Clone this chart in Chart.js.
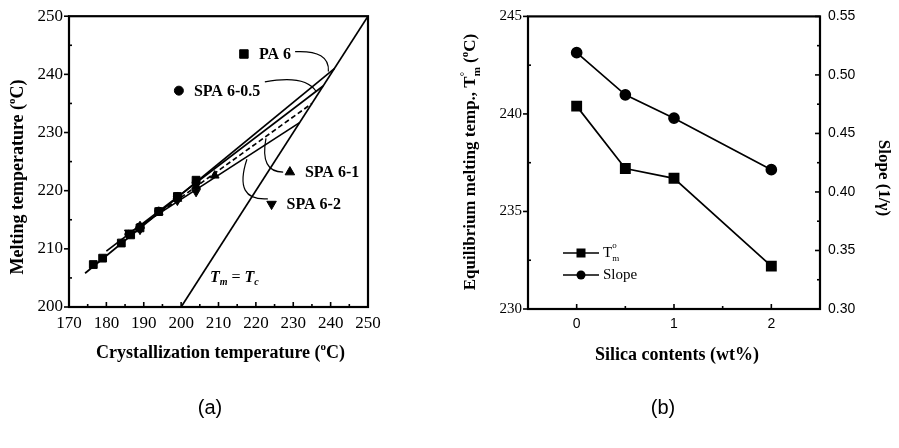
<!DOCTYPE html>
<html>
<head>
<meta charset="utf-8">
<script src="https://cdn.jsdelivr.net/npm/chart.js@4.4.1/dist/chart.umd.min.js"></script>
<style>
  html, body { margin: 0; padding: 0; background: #fff; }
  #wrap { position: relative; width: 899px; height: 448px; overflow: hidden; }
  canvas { position: absolute; top: 0; }
  #chart-a { left: 0; }
  #chart-b { left: 440px; }
</style>
</head>
<body>
<div id="wrap">
  <canvas id="chart-a" width="440" height="448"></canvas>
  <canvas id="chart-b" width="459" height="448"></canvas>
</div>
<script>
// ---- panel (a): Hoffman-Weeks plot ----
const tcTicks = [170, 180, 190, 200, 210, 220, 230, 240, 250];
const tmTicks = [200, 210, 220, 230, 240, 250];

const pa6Tc = [176.5, 179, 184, 186.5, 189, 194, 199, 204];
const pa6Tm = [207.3, 208.4, 211.0, 212.4, 213.6, 216.4, 219.0, 221.8];
const spa05Tc = [186, 189, 194, 199, 204];
const spa05Tm = [212.5, 213.8, 216.5, 219.0, 221.4];
const spa1Tc = [189, 194, 199, 204, 209];
const spa1Tm = [213.9, 216.3, 218.6, 220.8, 222.6];
const spa2Tc = [186, 189, 199, 204];
const spa2Tm = [212.8, 213.3, 218.3, 219.8];

// extrapolated fits, drawn up to Tm = Tc
const fitPa6Tc = [174.3, 241.0],   fitPa6Tm = [205.8, 241.0];
const fitSpa05Tc = [180.0, 238.0], fitSpa05Tm = [209.6, 238.0];
const fitSpa1Tc = [186.0, 235.0],  fitSpa1Tm = [212.4, 235.0];
const fitSpa2Tc = [186.0, 231.7],  fitSpa2Tm = [212.7, 231.7];
const diagTc = [200, 250], diagTm = [200, 250];

// key markers + labels
const keyNames = ['PA 6', 'SPA 6-0.5', 'SPA 6-1', 'SPA 6-2'];
const keyTc = [216.8, 199.4, 229.1, 224.2];
const keyTm = [243.5, 237.2, 223.2, 217.7];
const keyStyle = ['rect', 'circle', 'triangle', 'triangle'];
const keyRot = [0, 0, 0, 180];
const keyRadius = [6, 4.5, 5.5, 5.5];

// leader curves: start, control, end (Tc, Tm)
const leaderStart = [[230.5, 243.9], [222.4, 238.7], [227.3, 223.2], [217.6, 225.4]];
const leaderCtrl  = [[239.8, 244.2], [233.1, 240.0], [221.0, 223.2], [213.9, 218.2]];
const leaderEnd   = [[239.4, 240.5], [236.1, 237.1], [222.7, 229.0], [223.2, 218.6]];

// ---- panel (b): Tm0 and slope vs silica ----
const silica = [0, 0.5, 1, 2];
const tmEq = [240.4, 237.2, 236.7, 232.2];
const slope = [0.519, 0.483, 0.463, 0.419];
const silicaTicks = [0, 1, 2];
const tmEqTicks = [230, 235, 240, 245];
const slopeTicks = [0.30, 0.35, 0.40, 0.45, 0.50, 0.55];

const SERIF = "'Liberation Serif', 'DejaVu Serif', serif";
const SANS = "'Liberation Sans', Arial, sans-serif";

const pts = (xs, ys) => xs.map((x, i) => ({ x: x, y: ys[i] }));
const setTicks = arr => s => { s.ticks = arr.map(v => ({ value: v })); };

function lineSet(xs, ys, dash) {
    return { data: pts(xs, ys), showLine: true, borderColor: '#000', borderWidth: 1.7,
             borderDash: dash || [], pointRadius: 0, fill: false };
}
function markSet(xs, ys, style, r, rot) {
    return { data: pts(xs, ys), showLine: false, pointStyle: style, pointRadius: r,
             pointRotation: rot || 0, backgroundColor: '#000', borderColor: '#000', borderWidth: 1 };
}

// text runs with sub/superscripts
function rich(ctx, runs, x, y, rot, align) {
    ctx.save();
    ctx.translate(x, y);
    ctx.rotate(rot || 0);
    let w = 0;
    runs.forEach(r => { ctx.font = r.f; r.w = ctx.measureText(r.t).width; if (r.adv !== false) w += r.w; });
    let cx = align === 'left' ? 0 : -w / 2;
    ctx.textBaseline = 'middle';
    ctx.textAlign = 'left';
    ctx.fillStyle = '#000';
    runs.forEach(r => {
        ctx.font = r.f;
        ctx.fillText(r.t, cx, r.dy || 0);
        if (r.adv !== false) cx += r.w;
    });
    ctx.restore();
}

// tick marks: majors and minors, in or out
function tickMarks(chart, id, minorStep, majorOut, minorOut) {
    const s = chart.scales[id], a = chart.chartArea, ctx = chart.ctx;
    const majors = s.ticks.map(t => t.value);
    const n = Math.round((s.max - s.min) / minorStep);
    ctx.save();
    ctx.strokeStyle = '#000';
    ctx.lineWidth = 1.6;
    for (let i = 0; i <= n; i++) {
        const v = s.min + i * minorStep;
        const major = majors.some(m => Math.abs(m - v) < 1e-6);
        const len = major ? 5 : 3;
        const out = major ? majorOut : minorOut;
        const p = s.getPixelForValue(v);
        ctx.beginPath();
        if (s.isHorizontal()) {
            ctx.moveTo(p, a.bottom);
            ctx.lineTo(p, a.bottom + (out ? len : -len));
        } else if (s.position === 'left') {
            ctx.moveTo(a.left, p);
            ctx.lineTo(a.left + (out ? -len : len), p);
        } else {
            ctx.moveTo(a.right, p);
            ctx.lineTo(a.right + (out ? len : -len), p);
        }
        ctx.stroke();
    }
    ctx.restore();
}

function frame(chart) {
    const a = chart.chartArea, ctx = chart.ctx;
    ctx.save();
    ctx.strokeStyle = '#000';
    ctx.lineWidth = 2.2;
    ctx.strokeRect(a.left, a.top, a.right - a.left, a.bottom - a.top);
    ctx.restore();
}

const panelA = {
    id: 'panelA',
    afterDraw(chart) {
        const ctx = chart.ctx, a = chart.chartArea;
        const xs = chart.scales.x, ys = chart.scales.y;
        frame(chart);
        tickMarks(chart, 'x', 5, false, false);
        tickMarks(chart, 'y', 5, true, false);

        const tb = 'bold 18px ' + SERIF, sup = 'bold 11px ' + SERIF;
        rich(ctx, [{ t: 'Melting temperature (', f: tb }, { t: 'o', f: sup, dy: -6 }, { t: 'C)', f: tb }],
             18, 177, -Math.PI / 2);
        rich(ctx, [{ t: 'Crystallization temperature (', f: tb }, { t: 'o', f: sup, dy: -6 }, { t: 'C)', f: tb }],
             (a.left + a.right) / 2 + 2, 353, 0);

        // key labels
        ctx.save();
        ctx.font = 'bold 16px ' + SERIF;
        ctx.fillStyle = '#000';
        ctx.textBaseline = 'middle';
        keyNames.forEach((name, i) => {
            ctx.fillText(name, xs.getPixelForValue(keyTc[i]) + 15, ys.getPixelForValue(keyTm[i]) + 1);
        });
        // leaders
        ctx.strokeStyle = '#000';
        ctx.lineWidth = 1.2;
        leaderStart.forEach((st, i) => {
            ctx.beginPath();
            ctx.moveTo(xs.getPixelForValue(st[0]), ys.getPixelForValue(st[1]));
            ctx.quadraticCurveTo(xs.getPixelForValue(leaderCtrl[i][0]), ys.getPixelForValue(leaderCtrl[i][1]),
                                 xs.getPixelForValue(leaderEnd[i][0]), ys.getPixelForValue(leaderEnd[i][1]));
            ctx.stroke();
        });
        ctx.restore();

        // Tm = Tc
        const it = 'italic bold 16px ' + SERIF, itSub = 'italic bold 10px ' + SERIF;
        rich(ctx, [{ t: 'T', f: it }, { t: 'm', f: itSub, dy: 5 }, { t: ' = ', f: '16px ' + SERIF },
                   { t: 'T', f: it }, { t: 'c', f: itSub, dy: 5 }],
             xs.getPixelForValue(207.7), ys.getPixelForValue(205.0), 0, 'left');

        ctx.save();
        ctx.font = '20px ' + SANS;
        ctx.fillStyle = '#000';
        ctx.textAlign = 'center';
        ctx.textBaseline = 'middle';
        ctx.fillText('(a)', 210, 408);
        ctx.restore();
    }
};

new Chart(document.getElementById('chart-a'), {
    type: 'scatter',
    data: {
        datasets: [
            lineSet(diagTc, diagTm),
            lineSet(fitPa6Tc, fitPa6Tm),
            lineSet(fitSpa05Tc, fitSpa05Tm),
            lineSet(fitSpa1Tc, fitSpa1Tm, [5, 3]),
            lineSet(fitSpa2Tc, fitSpa2Tm),
            markSet(pa6Tc, pa6Tm, 'rect', 5.5),
            markSet(spa05Tc, spa05Tm, 'circle', 4),
            markSet(spa1Tc, spa1Tm, 'triangle', 5),
            markSet(spa2Tc, spa2Tm, 'triangle', 5, 180),
            { data: pts(keyTc, keyTm), showLine: false, pointStyle: keyStyle, pointRotation: keyRot,
              pointRadius: keyRadius, backgroundColor: '#000', borderColor: '#000', borderWidth: 1, clip: false }
        ]
    },
    options: {
        responsive: false,
        animation: false,
        events: [],
        layout: { padding: { left: 0, right: 72, top: 16, bottom: 0 } },
        plugins: { legend: { display: false }, tooltip: { enabled: false } },
        scales: {
            x: {
                type: 'linear', min: 170, max: 250,
                afterBuildTicks: setTicks(tcTicks),
                afterFit: s => { s.height = 141; },
                grid: { display: false, drawTicks: false },
                border: { display: false },
                ticks: { color: '#000', font: { family: SERIF, size: 17 }, padding: 6, autoSkip: false, maxRotation: 0 }
            },
            y: {
                type: 'linear', min: 200, max: 250,
                afterBuildTicks: setTicks(tmTicks),
                afterFit: s => { s.width = 69; },
                grid: { display: false, drawTicks: false },
                border: { display: false },
                ticks: { color: '#000', font: { family: SERIF, size: 17 }, padding: 6, autoSkip: false }
            }
        }
    },
    plugins: [panelA]
});

const panelB = {
    id: 'panelB',
    afterDraw(chart) {
        const ctx = chart.ctx, a = chart.chartArea;
        frame(chart);
        tickMarks(chart, 'x', 0.5, false, false);
        tickMarks(chart, 'y', 2.5, true, false);
        tickMarks(chart, 'y1', 0.025, false, false);

        const tb = 'bold 17px ' + SERIF, sup = 'bold 11px ' + SERIF;
        rich(ctx, [{ t: 'Equilibrium melting temp., T', f: tb },
                   { t: '°', f: sup, dy: -6, adv: false }, { t: 'm', f: sup, dy: 6 },
                   { t: ' (', f: tb }, { t: 'o', f: sup, dy: -6 }, { t: 'C)', f: tb }],
             31, 162, -Math.PI / 2);
        rich(ctx, [{ t: 'Slope (1/γ)', f: tb }], 443, 178, Math.PI / 2);
        rich(ctx, [{ t: 'Silica contents (wt%)', f: 'bold 18px ' + SERIF }], (a.left + a.right) / 2 + 3, 355, 0);

        // legend inside plot
        ctx.save();
        ctx.strokeStyle = '#000';
        ctx.fillStyle = '#000';
        ctx.lineWidth = 1.7;
        const lx0 = 123, lx1 = 159, rowY = [253, 275];
        rowY.forEach(y => { ctx.beginPath(); ctx.moveTo(lx0, y); ctx.lineTo(lx1, y); ctx.stroke(); });
        ctx.fillRect(141 - 4.5, rowY[0] - 4.5, 9, 9);
        ctx.beginPath(); ctx.arc(141, rowY[1], 4.5, 0, Math.PI * 2); ctx.fill();
        ctx.restore();
        const lf = '15px ' + SERIF, ls = '9px ' + SERIF;
        rich(ctx, [{ t: 'T', f: lf }, { t: 'o', f: ls, dy: -7, adv: false }, { t: 'm', f: ls, dy: 6 }],
             163, rowY[0], 0, 'left');
        rich(ctx, [{ t: 'Slope', f: lf }], 163, rowY[1], 0, 'left');

        ctx.save();
        ctx.font = '20px ' + SANS;
        ctx.fillStyle = '#000';
        ctx.textAlign = 'center';
        ctx.textBaseline = 'middle';
        ctx.fillText('(b)', 223, 408);
        ctx.restore();
    }
};

new Chart(document.getElementById('chart-b'), {
    type: 'scatter',
    data: {
        datasets: [
            { data: pts(silica, tmEq), yAxisID: 'y', showLine: true, borderColor: '#000', borderWidth: 1.7,
              pointStyle: 'rect', pointRadius: 6.5, backgroundColor: '#000', pointBorderColor: '#000' },
            { data: pts(silica, slope), yAxisID: 'y1', showLine: true, borderColor: '#000', borderWidth: 1.7,
              pointStyle: 'circle', pointRadius: 5, backgroundColor: '#000', pointBorderColor: '#000' }
        ]
    },
    options: {
        responsive: false,
        animation: false,
        events: [],
        layout: { padding: { left: 0, right: 0, top: 16, bottom: 0 } },
        plugins: { legend: { display: false }, tooltip: { enabled: false } },
        scales: {
            x: {
                type: 'linear', min: -0.5, max: 2.5,
                afterBuildTicks: setTicks(silicaTicks),
                afterFit: s => { s.height = 139; },
                grid: { display: false, drawTicks: false },
                border: { display: false },
                ticks: { color: '#000', font: { family: SANS, size: 14 }, padding: 7, autoSkip: false, maxRotation: 0 }
            },
            y: {
                type: 'linear', position: 'left', min: 230, max: 245,
                afterBuildTicks: setTicks(tmEqTicks),
                afterFit: s => { s.width = 88; },
                grid: { display: false, drawTicks: false },
                border: { display: false },
                ticks: { color: '#000', font: { family: SERIF, size: 15 }, padding: 6, autoSkip: false }
            },
            y1: {
                type: 'linear', position: 'right', min: 0.30, max: 0.55,
                afterBuildTicks: setTicks(slopeTicks),
                afterFit: s => { s.width = 79; },
                grid: { display: false, drawTicks: false },
                border: { display: false },
                ticks: { color: '#000', font: { family: SANS, size: 14 }, padding: 8, autoSkip: false,
                         callback: v => v.toFixed(2) }
            }
        }
    },
    plugins: [panelB]
});
</script>
</body>
</html>
